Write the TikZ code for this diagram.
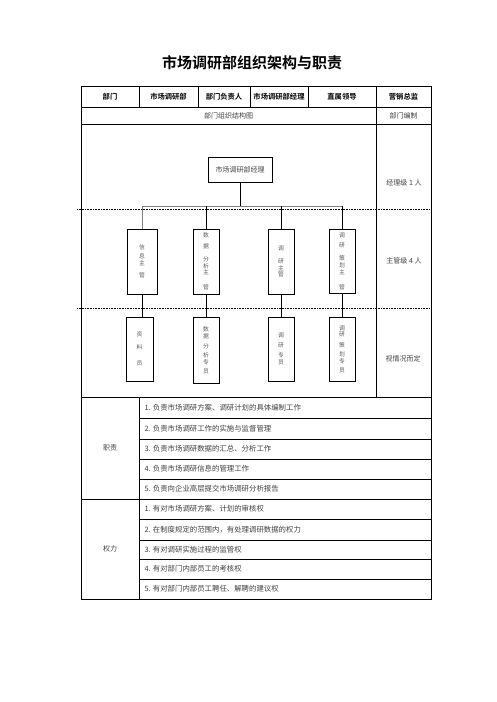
\documentclass[tikz,border=0pt]{standalone}
\usepackage{fontspec}
\setmainfont{Noto Sans CJK SC}[BoldFont={Noto Sans CJK SC Bold}]
\usetikzlibrary{positioning}
\begin{document}
\begin{tikzpicture}[x=1pt,y=-1pt,
  cell/.style={font=\fontsize{7}{8}\selectfont,text=black!75},
  head/.style={font=\bfseries\fontsize{7.3}{8}\selectfont},
  item/.style={cell,anchor=west,font=\fontsize{7.4}{8}\selectfont},
  post/.style={draw,line width=0.8pt,minimum width=26pt,minimum height=65pt,inner sep=0pt,
    align=center,font=\fontsize{5.8}{6.8}\selectfont,text=black!65},
  link/.style={line width=0.6pt},
  rule/.style={line width=0.8pt},
  level/.style={dash pattern=on 1pt off 0.6pt,line width=0.6pt}]

% page size
\useasboundingbox (0,0) rectangle (496,702);

% title
\node[font=\bfseries\fontsize{15}{18}\selectfont] (title) at (252,63) {市场调研部组织架构与职责};

% table frame
\draw[rule] (81,86) rectangle (431,599);
\draw[rule] (81,107) -- (431,107) (81,124) -- (431,124) (81,397) -- (431,397) (81,499) -- (431,499);
\foreach \x in {139,198,250,308,376} \draw[rule] (\x,86) -- (\x,107);
\draw[rule] (376,107) -- (376,397);
\draw[rule] (139,397) -- (139,599);
\foreach \y in {418,439,459,479,519,540,559,579} \draw[line width=0.5pt] (139,\y) -- (431,\y);

% header row
\node[head] (h1) at (110,97) {部门};
\node[head] (h2) at (168.5,97) {市场调研部};
\node[head] (h3) at (224,97) {部门负责人};
\node[head] (h4) at (279,97) {市场调研部经理};
\node[head] (h5) at (342,97) {直属领导};
\node[head] (h6) at (403.5,97) {营销总监};
\node[cell] (chart) at (228.5,115.5) {部门组织结构图};
\node[cell] (staff) at (403.5,115.5) {部门编制};

% level lines
\draw[level] (77,209) -- (432,209);
\draw[level] (77,308) -- (432,308);

% org chart
\node[draw,line width=0.8pt,minimum width=64pt,minimum height=25pt,cell] (mgr) at (240,169.5) {市场调研部经理};
\node[post,minimum width=30pt] (s1) at (142,261.5) {信\\[2pt]息\\主\\[6pt]管};
\node[post] (s2) at (206,261.5) {数\\[4pt]据\\[6pt]分\\析\\主\\[8pt]管};
\node[post] (s3) at (281,261.5) {调\\[6pt]研\\主\\管};
\node[post,minimum height=64pt] (s4) at (342,261) {调\\[4pt]研\\[6pt]策\\划\\主\\[8pt]管};
\node[post,minimum width=27pt,minimum height=64pt] (e1) at (139.5,349) {资\\[6pt]料\\[10pt]员};
\node[post,minimum height=66pt] (e2) at (206,350) {数\\据\\[4pt]分\\[2pt]析\\专\\[2pt]员};
\node[post,minimum height=64pt] (e3) at (281,349) {调\\[3pt]研\\[3pt]专\\员};
\node[post,minimum height=64pt] (e4) at (342,349) {调\\研\\[4pt]策\\[2pt]划\\专\\[2pt]员};

% connectors
\coordinate (bus) at (240,206);
\draw[link] (mgr.south) -- (mgr.south |- bus);
\draw[gray,line width=1pt] (s1.north |- bus) -- (s4.north |- bus);
\draw[link,gray] (s1.north) -- (s1.north |- bus);
\foreach \n in {s2,s3,s4} \draw[link] (\n.north) -- (\n.north |- bus);
\foreach \n/\m in {s1/e1,s2/e2,s3/e3,s4/e4} \draw[link] (\n.south) -- (\n.south |- \m.north);

% staffing
\node[cell] (lv1) at (404,183) {经理级 1 人};
\node[cell] (lv2) at (404,261) {主管级 4 人};
\node[cell] (lv3) at (403,359) {视情况而定};

% duties
\node[cell] (duty) at (110,448) {职责};
\node[item] (d1) at (141,407.5) {1. 负责市场调研方案、调研计划的具体编制工作};
\node[item] (d2) at (141,428.5) {2. 负责市场调研工作的实施与监督管理};
\node[item] (d3) at (141,449) {3. 负责市场调研数据的汇总、分析工作};
\node[item] (d4) at (141,469) {4. 负责市场调研信息的管理工作};
\node[item] (d5) at (141,489) {5. 负责向企业高层提交市场调研分析报告};

% rights
\node[cell] (right) at (110,549) {权力};
\node[item] (r1) at (141,509) {1. 有对市场调研方案、计划的审核权};
\node[item] (r2) at (141,529.5) {2. 在制度规定的范围内，有处理调研数据的权力};
\node[item] (r3) at (141,549.5) {3. 有对调研实施过程的监管权};
\node[item] (r4) at (141,569) {4. 有对部门内部员工的考核权};
\node[item] (r5) at (141,589) {5. 有对部门内部员工聘任、解聘的建议权};

\end{tikzpicture}
\end{document}
